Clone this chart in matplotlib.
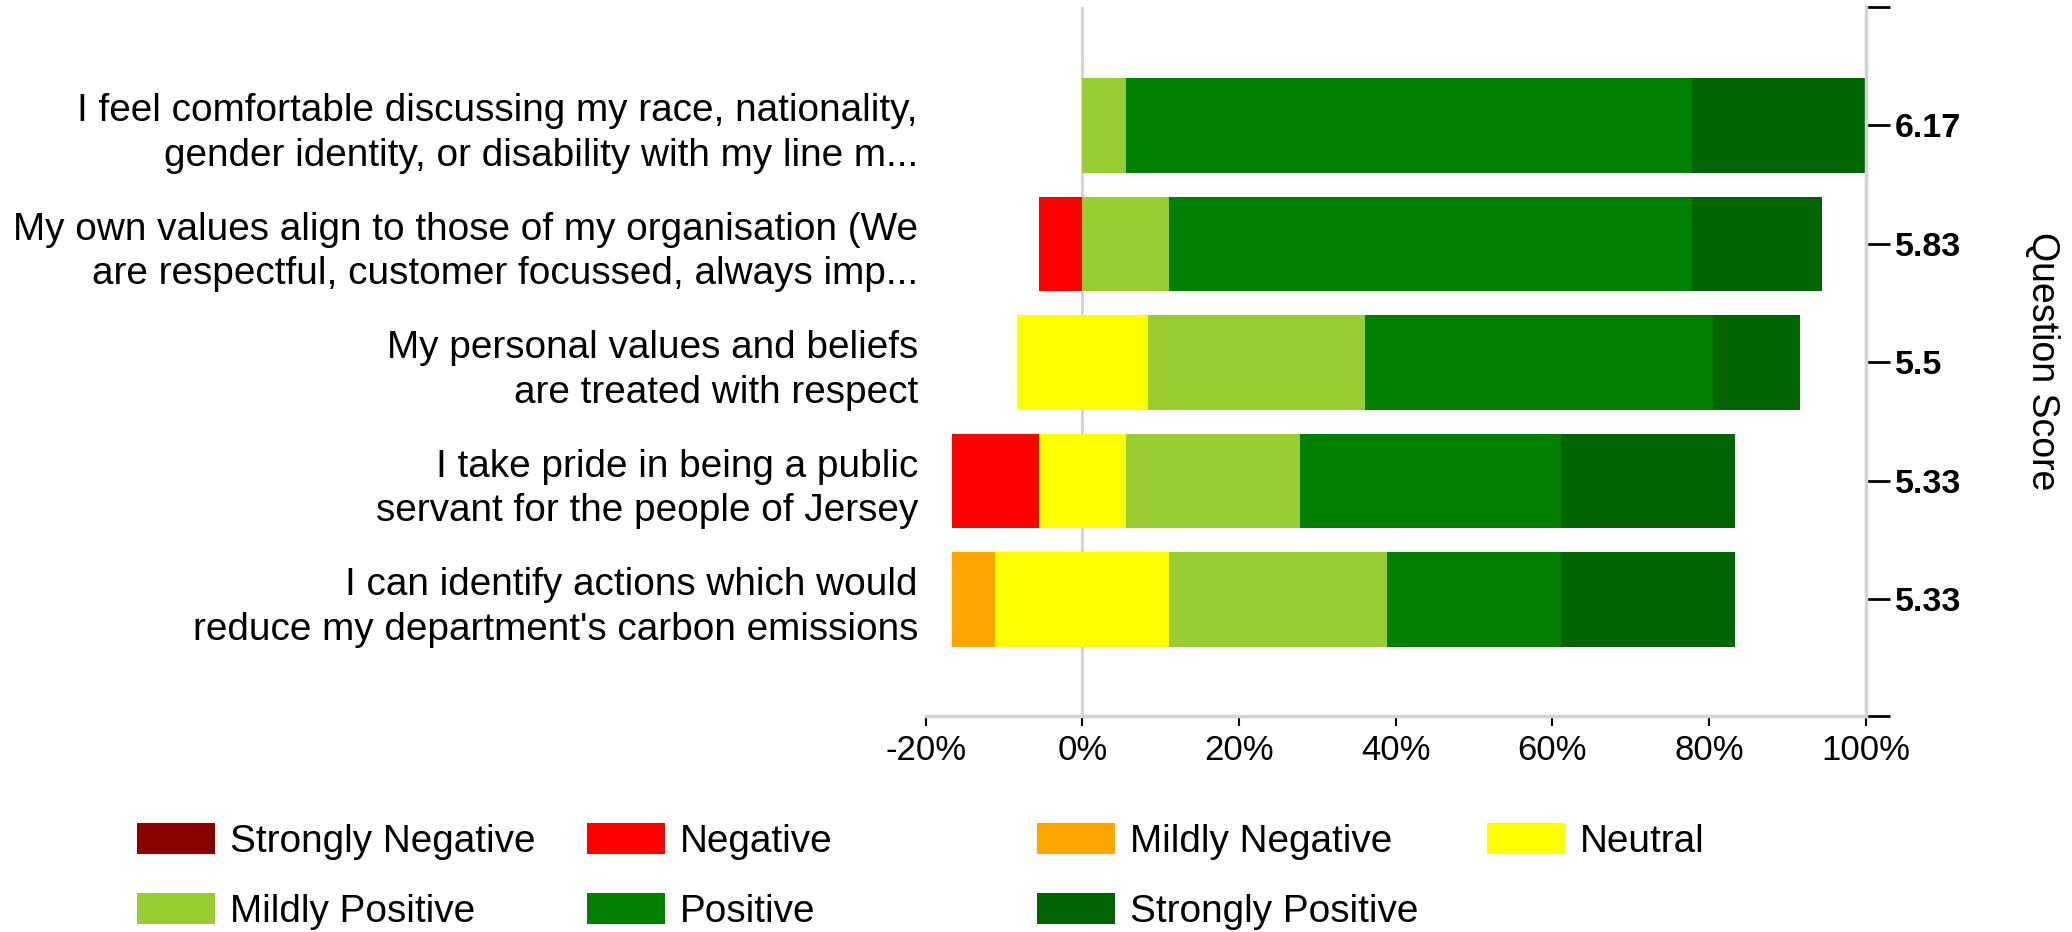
import matplotlib
matplotlib.use('Agg')
import matplotlib.pyplot as plt
from matplotlib.patches import Patch
import numpy as np

plt.rcParams['font.family'] = ['Liberation Sans', 'DejaVu Sans']

questions = [
    "I feel comfortable discussing my race, nationality,\ngender identity, or disability with my line m...",
    "My own values align to those of my organisation (We\nare respectful, customer focussed, always imp...",
    "My personal values and beliefs\nare treated with respect",
    "I take pride in being a public\nservant for the people of Jersey",
    "I can identify actions which would\nreduce my department's carbon emissions",
]
scores = ['6.17', '5.83', '5.5', '5.33', '5.33']

categories = ['Strongly Negative', 'Negative', 'Mildly Negative', 'Neutral',
              'Mildly Positive', 'Positive', 'Strongly Positive']
colors = ['#8b0000', '#ff0000', '#ffa500', '#ffff00', '#9acd32', '#008000', '#006400']

# percentages per category, one entry per question (top to bottom)
strongly_negative = [0, 0, 0, 0, 0]
negative = [0, 5.56, 0, 11.11, 0]
mildly_negative = [0, 0, 0, 0, 5.56]
neutral = [0, 0, 16.67, 11.11, 22.22]
mildly_positive = [5.56, 11.11, 27.78, 22.22, 27.78]
positive = [72.22, 66.67, 44.44, 33.33, 22.22]
strongly_positive = [22.22, 16.67, 11.11, 22.22, 22.22]

series = np.array([strongly_negative, negative, mildly_negative, neutral,
                   mildly_positive, positive, strongly_positive])

W, H = 2072, 932
fig = plt.figure(figsize=(W / 100, H / 100), dpi=100)
ax = fig.add_axes([925.6 / W, 1 - 715.5 / H, (1865.8 - 925.6) / W, (715.5 - 7) / H])

y = np.arange(len(questions))
# neutral is split around zero
start = -(series[0] + series[1] + series[2] + series[3] / 2)
left = start.copy()
for vals, col in zip(series, colors):
    ax.barh(y, vals, left=left, height=0.8, color=col, zorder=2)
    left = left + vals

ax.axvline(0, color='#d3d3d3', lw=2, zorder=0)
ax.set_xlim(-20, 100)
ax.set_ylim(4.98, -1.0)
ax.set_xticks([-20, 0, 20, 40, 60, 80, 100])
ax.set_xticklabels(['%d%%' % v for v in [-20, 0, 20, 40, 60, 80, 100]], fontsize=25)
ax.set_yticks(y)
ax.set_yticklabels(questions, fontsize=27.9, linespacing=1.3)
ax.tick_params(axis='y', length=0, pad=5.5)
ax.tick_params(axis='x', length=7, width=1.5, color='black', pad=6)
for s in ['top', 'left', 'right']:
    ax.spines[s].set_visible(False)
ax.spines['bottom'].set_color('#d3d3d3')
ax.spines['bottom'].set_linewidth(2.5)

ax2 = ax.twinx()
ax2.set_ylim(ax.get_ylim())
ax2.set_yticks(y)
ax2.set_yticklabels(scores, fontsize=24.5, fontweight='bold')
ax2.set_yticks([4.98, -1.0], minor=True)
ax2.tick_params(axis='y', which='both', length=17, width=2, color='black', pad=4)
for s in ['top', 'left', 'bottom']:
    ax2.spines[s].set_visible(False)
ax2.spines['right'].set_color('#d3d3d3')
ax2.spines['right'].set_linewidth(2.5)

fig.text(2042 / W, 1 - 361 / H, 'Question Score', rotation=270, fontsize=27,
         ha='center', va='center')

# legend laid out in four equal columns
col_x = [137, 587, 1037, 1487]
col_items = [[0, 4], [1, 5], [2, 6], [3]]
for cx, items in zip(col_x, col_items):
    handles = [Patch(facecolor=colors[i], edgecolor='none') for i in items]
    labels = [categories[i] for i in items]
    fig.legend(handles, labels, loc='upper left', bbox_to_anchor=(cx / W, 1 - 823 / H),
               frameon=False, fontsize=27.9, handlelength=2.0, handleheight=0.85,
               handletextpad=0.4, labelspacing=0.85, borderpad=0, borderaxespad=0)

fig.savefig('out.png', dpi=100)
